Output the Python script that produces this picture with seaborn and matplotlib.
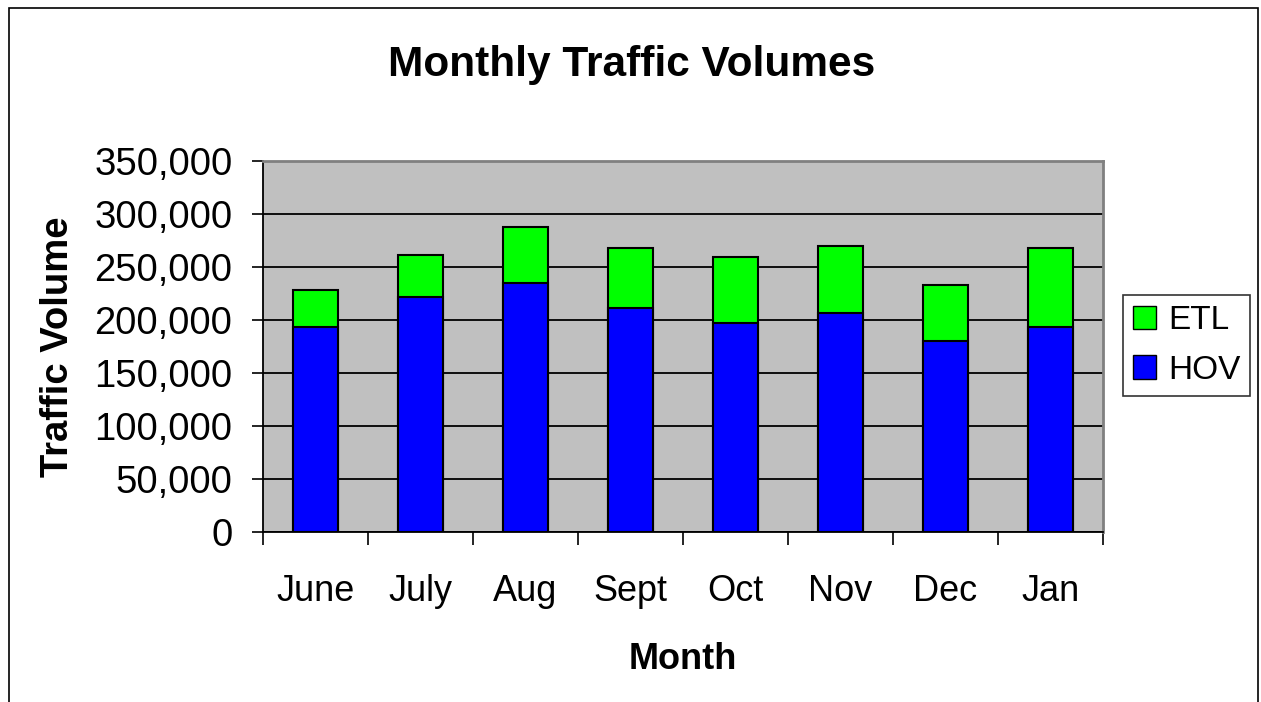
import numpy as np
import pandas as pd
import seaborn as sns
import matplotlib.pyplot as plt
from matplotlib.patches import Rectangle, Patch
from matplotlib.ticker import FuncFormatter, FixedLocator

# Daten
months = ['June', 'July', 'Aug', 'Sept', 'Oct', 'Nov', 'Dec', 'Jan']
hov = [193700, 222000, 235000, 211600, 196900, 206900, 180500, 193700]
etl = [34600, 39300, 52700, 56400, 62500, 62600, 52500, 74300]

df = pd.DataFrame({'Month': months, 'HOV': hov, 'ETL': etl})
df['Total'] = df['HOV'] + df['ETL']

sns.set_theme(style='white')
plt.rcParams['font.family'] = ['Liberation Sans', 'DejaVu Sans']
plt.rcParams['text.color'] = 'black'
plt.rcParams['axes.labelcolor'] = 'black'
plt.rcParams['xtick.color'] = 'black'
plt.rcParams['ytick.color'] = 'black'

fig = plt.figure(figsize=(12.61, 7.02), dpi=100)
ax = fig.add_axes([0.2086, 0.2422, 0.6661, 0.5285])
ax.set_facecolor('#C0C0C0')

# gestapelte Balken: Gesamt (ETL oben) und HOV darüber gezeichnet
sns.barplot(data=df, x='Month', y='Total', color='#00FF00', width=0.42,
            edgecolor='black', linewidth=1.5, saturation=1, ax=ax, zorder=3)
sns.barplot(data=df, x='Month', y='HOV', color='#0000FF', width=0.42,
            edgecolor='black', linewidth=1.5, saturation=1, ax=ax, zorder=3)

ax.set_ylim(0, 350000)
ax.set_xlim(-0.5, len(months) - 0.5)
ax.set_yticks(np.arange(0, 350001, 50000))
ax.yaxis.set_major_formatter(FuncFormatter(lambda v, p: f'{int(v):,}'))
ax.grid(axis='y', color='black', linewidth=1.3, zorder=1)
ax.set_axisbelow(True)

# Ticks an den Kategoriegrenzen, Labels in der Mitte
ax.xaxis.set_major_locator(FixedLocator(np.arange(-0.5, len(months), 1.0)))
ax.xaxis.set_minor_locator(FixedLocator(np.arange(len(months))))
ax.set_xticklabels([])
ax.set_xticklabels(months, minor=True)
ax.tick_params(axis='x', which='major', length=9.5, width=1.2, color='black', direction='out', bottom=True)
ax.tick_params(axis='x', which='minor', length=0, pad=30, labelsize=26)
ax.tick_params(axis='y', length=8, width=1.2, color='black', direction='out', left=True, pad=14, labelsize=27.5)

for s in ['left', 'bottom']:
    ax.spines[s].set_color('black')
    ax.spines[s].set_linewidth(1.3)
for s in ['top', 'right']:
    ax.spines[s].set_color('#808080')
    ax.spines[s].set_linewidth(2)

ax.set_xlabel('Month', fontsize=26, fontweight='bold', labelpad=24)
ax.set_ylabel('Traffic Volume', fontsize=27.5, fontweight='bold', labelpad=13)

fig.text(0.5008, 0.907, 'Monthly Traffic Volumes', ha='center', va='center',
         fontsize=30.5, fontweight='bold')

handles = [Patch(facecolor='#00FF00', edgecolor='black', label='ETL'),
           Patch(facecolor='#0000FF', edgecolor='black', label='HOV')]
leg = fig.legend(handles=handles, loc='center left', bbox_to_anchor=(1123 / 1261, 0.508),
                 fontsize=24, frameon=True, fancybox=False, handlelength=0.7,
                 handleheight=0.7, handletextpad=0.35, borderpad=0.3, labelspacing=0.55,
                 borderaxespad=0)
leg.get_frame().set_edgecolor('black')
leg.get_frame().set_linewidth(1.2)

# Rahmen um das Diagramm
fig.patches.append(Rectangle((9 / 1261, -0.05), 1249 / 1261, 1.05 - 8 / 702,
                             transform=fig.transFigure, fill=False,
                             edgecolor='black', linewidth=1.2))

plt.savefig('out.png', dpi=100)
